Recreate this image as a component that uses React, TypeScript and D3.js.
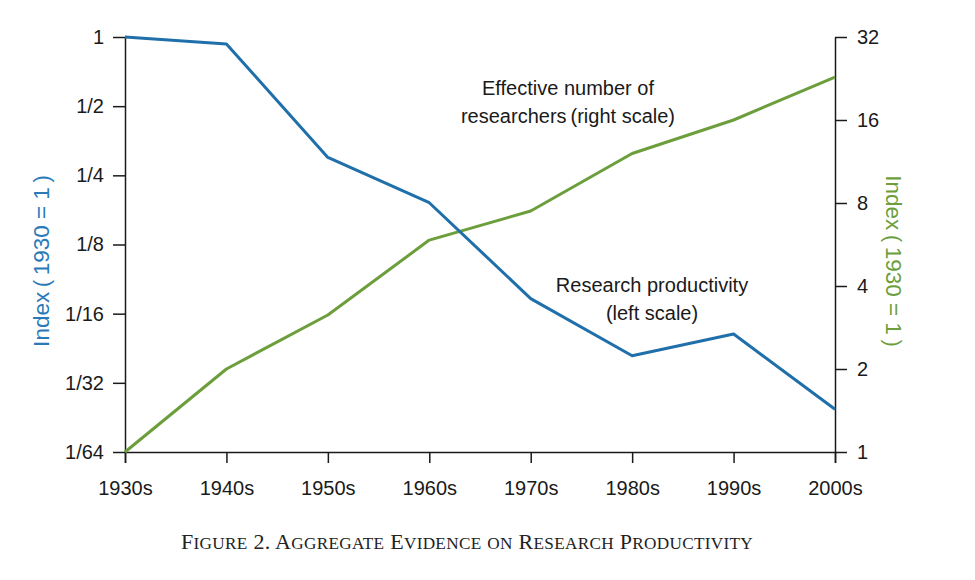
import { useEffect, useRef } from "react";
import * as d3 from "d3";

const decades = ["1930s", "1940s", "1950s", "1960s", "1970s", "1980s", "1990s", "2000s"];
// research productivity, left scale (1930 = 1)
const productivity = [1, 0.932, 0.299, 0.19, 0.0727, 0.041, 0.051, 0.024];
// effective number of researchers, right scale (1930 = 1)
const researchers = [1, 2, 3.14, 5.87, 7.48, 12.1, 16, 22.9];

const leftTicks = [1, 1 / 2, 1 / 4, 1 / 8, 1 / 16, 1 / 32, 1 / 64];
const leftTickLabels = ["1", "1/2", "1/4", "1/8", "1/16", "1/32", "1/64"];
const rightTicks = [32, 16, 8, 4, 2, 1];

const BLUE = "#1f6fab";
const GREEN = "#6c9e3c";
const SANS = "'Liberation Sans', Arial, Helvetica, sans-serif";
const CAPTION = "Figure 2. Aggregate Evidence on Research Productivity";

const App = () => {
  const svgRef = useRef<SVGSVGElement | null>(null);

  useEffect(() => {
    if (!svgRef.current) return;
    const width = 975;
    const height = 580;
    const margin = { top: 37, right: 140, bottom: 128, left: 125 };

    const svg = d3.select(svgRef.current).attr("width", width).attr("height", height);
    svg.selectAll("*").remove();

    const x = d3
      .scalePoint<string>()
      .domain(decades)
      .range([margin.left, width - margin.right]);

    const yLeft = d3
      .scaleLog()
      .base(2)
      .domain([1 / 64, 1])
      .range([height - margin.bottom, margin.top]);

    const yRight = d3
      .scaleLog()
      .base(2)
      .domain([1, 32])
      .range([height - margin.bottom, margin.top]);

    // axes
    const left = svg
      .append("g")
      .attr("transform", `translate(${margin.left},0)`)
      .call(
        d3
          .axisLeft(yLeft)
          .tickValues(leftTicks)
          .tickFormat((_, i) => leftTickLabels[i])
          .tickSize(12)
          .tickSizeOuter(0)
          .tickPadding(9)
      );

    const right = svg
      .append("g")
      .attr("transform", `translate(${width - margin.right},0)`)
      .call(
        d3
          .axisRight(yRight)
          .tickValues(rightTicks)
          .tickFormat(d3.format("d"))
          .tickSize(12)
          .tickSizeOuter(0)
          .tickPadding(10)
      );

    const bottom = svg
      .append("g")
      .attr("transform", `translate(0,${height - margin.bottom})`)
      .call(d3.axisBottom(x).tickSize(11).tickSizeOuter(11).tickPadding(18));

    [left, right, bottom].forEach((g) => {
      g.selectAll("path, line").attr("stroke", "#1a1a1a").attr("stroke-width", 1.5);
      g.selectAll("text")
        .attr("font-family", SANS)
        .attr("font-size", 20)
        .attr("fill", "#1a1a1a");
    });

    // lines
    const lineLeft = d3
      .line<number>()
      .x((_, i) => x(decades[i]) as number)
      .y((d) => yLeft(d));

    const lineRight = d3
      .line<number>()
      .x((_, i) => x(decades[i]) as number)
      .y((d) => yRight(d));

    svg
      .append("path")
      .datum(researchers)
      .attr("fill", "none")
      .attr("stroke", GREEN)
      .attr("stroke-width", 3)
      .attr("stroke-linejoin", "round")
      .attr("d", lineRight);

    svg
      .append("path")
      .datum(productivity)
      .attr("fill", "none")
      .attr("stroke", BLUE)
      .attr("stroke-width", 3)
      .attr("stroke-linejoin", "round")
      .attr("d", lineLeft);

    // axis titles
    svg
      .append("text")
      .attr("transform", `translate(49,261) rotate(-90)`)
      .attr("text-anchor", "middle")
      .attr("font-family", SANS)
      .attr("font-size", 22.5)
      .attr("fill", "#2a7ab8")
      .text("Index\u2009(\u20091930 = 1\u2009)");

    svg
      .append("text")
      .attr("transform", `translate(886,261) rotate(90)`)
      .attr("text-anchor", "middle")
      .attr("font-family", SANS)
      .attr("font-size", 22.5)
      .attr("fill", GREEN)
      .text("Index\u2009(\u20091930 = 1\u2009)");

    // annotations
    const notes = [
      { text: "Effective number of", x: 568, y: 95 },
      { text: "researchers\u2009(right scale)", x: 568, y: 123 },
      { text: "Research productivity", x: 652, y: 292 },
      { text: "(left scale)", x: 652, y: 320 },
    ];
    svg
      .selectAll(".note")
      .data(notes)
      .enter()
      .append("text")
      .attr("class", "note")
      .attr("x", (d) => d.x)
      .attr("y", (d) => d.y)
      .attr("text-anchor", "middle")
      .attr("font-family", SANS)
      .attr("font-size", 20)
      .attr("fill", "#1a1a1a")
      .text((d) => d.text);

    // caption in small caps: capitals full size, lowercase upper-cased smaller
    const caption = svg
      .append("text")
      .attr("x", 467)
      .attr("y", 549)
      .attr("text-anchor", "middle")
      .attr("font-family", "'Liberation Serif', 'Times New Roman', serif")
      .attr("letter-spacing", 0.3)
      .attr("fill", "#222");
    const runs = CAPTION.match(/[a-z]+|[^a-z]+/g) || [];
    runs.forEach((r) => {
      const lower = /^[a-z]/.test(r);
      caption
        .append("tspan")
        .attr("font-size", lower ? 17.2 : 22)
        .text(lower ? r.toUpperCase() : r);
    });
  }, []);

  return (
    <svg
      ref={svgRef}
      style={{ position: "absolute", left: 0, top: 0, background: "#fff" }}
    ></svg>
  );
};

export default App;
